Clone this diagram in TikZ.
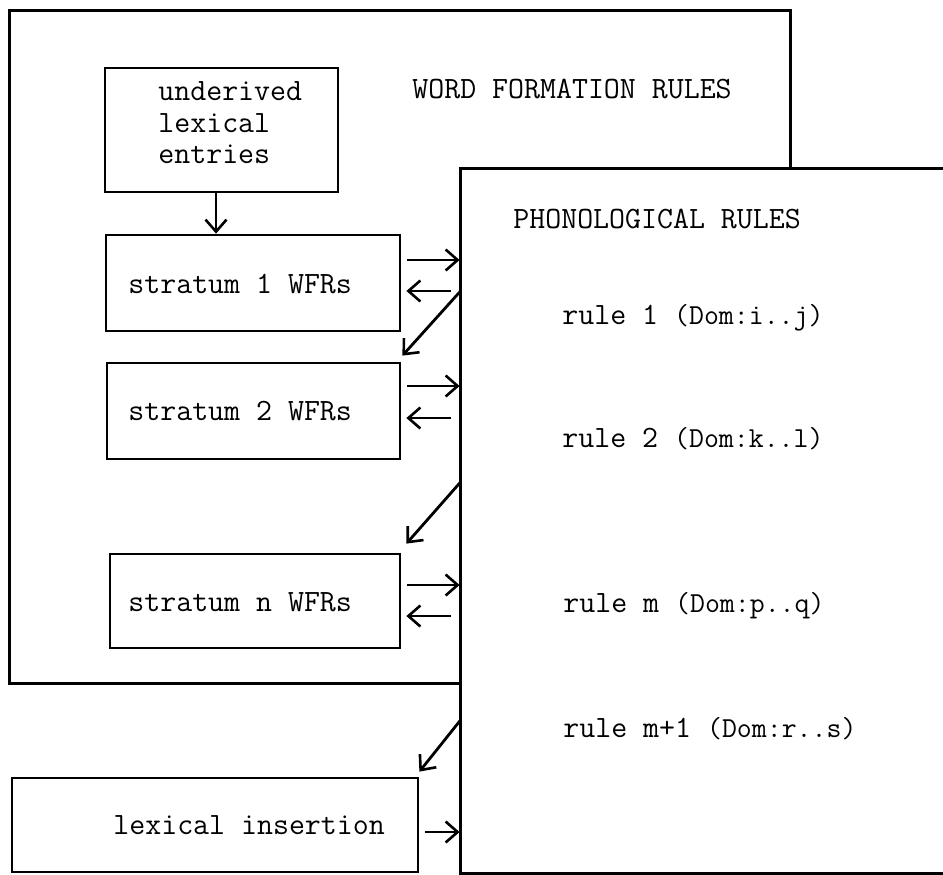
\documentclass[tikz,border=0pt]{standalone}
\usepackage{fontspec}
\usetikzlibrary{arrows.meta,fit,calc}

\begin{document}
\begin{tikzpicture}[x=0.5pt,y=-0.5pt,line width=1.4pt,
  area/.style={rectangle,inner sep=0pt},
  box/.style={area,draw},
  lbl/.style={anchor=base west,inner sep=0pt,font=\ttfamily\fontsize{15.5}{18}\selectfont},
  arr/.style={-{Straight Barb[length=6pt,width=10.5pt,line width=1.3pt]}}]
\newcommand\domain[1]{{\fontsize{14.5}{17}\selectfont #1}}
\useasboundingbox (0,0) rectangle (943,874);

% outer regions (word formation and phonology)
\node[area,fit={(11,12) (789,682)}] (wfr) {};
\node[area,fit={(462,170) (943,872)}] (phon) {};
\draw (phon.west |- wfr.south) -- (wfr.south west) -- (wfr.north west)
      -- (wfr.north east) -- (wfr.east |- phon.north);
\draw ($(phon.north west)+(-2,0)$) -- (phon.north east);
\draw (phon.north west) -- (phon.south west) -- (phon.south east);

% lexicon boxes
\node[box,fit={(105,68) (338,192)}] (und) {};
\node[box,fit={(106,235) (400,331)}] (s1) {};
\node[box,fit={(107,363) (400,459)}] (s2) {};
\node[box,fit={(110,554) (400,648)}] (sn) {};
\node[box,fit={(12,778) (418,872)}] (lex) {};

% labels
\node[lbl] (t1) at (157,100) {underived};
\node[lbl] (t2) at (157,132) {lexical};
\node[lbl] (t3) at (157,163) {entries};
\node[lbl] (twfr) at (411,98) {WORD FORMATION RULES};
\node[lbl] (ts1) at (127,293) {stratum 1 WFRs};
\node[lbl] (ts2) at (127,420) {stratum 2 WFRs};
\node[lbl] (tsn) at (127,611) {stratum n WFRs};
\node[lbl] (tlex) at (112,834) {lexical insertion};
\node[lbl] (tphon) at (512,228) {PHONOLOGICAL RULES};
\node[lbl] (r1) at (561,324) {rule 1 \domain{(Dom:i..j)}};
\node[lbl] (r2) at (561,447) {rule 2 \domain{(Dom:k..l)}};
\node[lbl] (rm) at (562,612) {rule m \domain{(Dom:p..q)}};
\node[lbl] (rm1) at (562,737) {rule m+1 \domain{(Dom:r..s)}};

% connectors
\draw[arr] ($(und.south)+(-5.5,0)$) -- ($(und.south |- s1.north)+(-5.5,0)$);

\draw[arr] ($(s1.east)+(6,-23)$) -- ($(s1.east -| phon.west)+(-1,-23)$);
\draw[arr] ($(s1.east -| phon.west)+(-10,8)$) -- ($(s1.east)+(5,8)$);
\draw[arr] ($(s1.east -| phon.west)+(0,8)$) -- ($(s2.north east)+(1,-6)$);

\draw[arr] ($(s2.east)+(6,-25)$) -- ($(s2.east -| phon.west)+(-1,-25)$);
\draw[arr] ($(s2.east -| phon.west)+(-10,7)$) -- ($(s2.east)+(5,7)$);
\draw[arr] ($(s2.east -| phon.west)+(0,71)$) -- ($(sn.north east)+(5,-9)$);

\draw[arr] ($(sn.east)+(6,-16)$) -- ($(sn.east -| phon.west)+(-1,-16)$);
\draw[arr] ($(sn.east -| phon.west)+(-10,15)$) -- ($(sn.east)+(5,15)$);
\draw[arr] ($(sn.east -| phon.west)+(0,119)$) -- ($(lex.north east)+(0,-5)$);

\draw[arr] ($(lex.east)+(6,7)$) -- ($(lex.east -| phon.west)+(-1,7)$);
\end{tikzpicture}
\end{document}
